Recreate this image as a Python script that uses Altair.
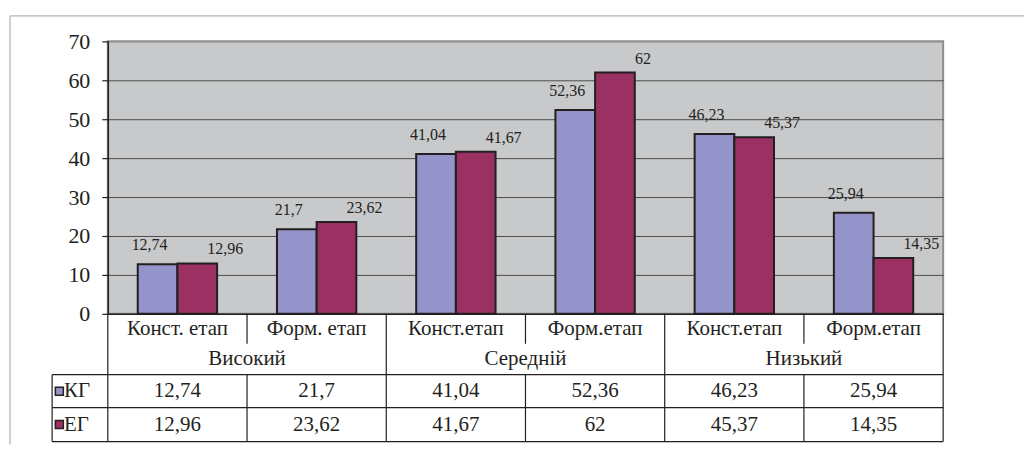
import altair as alt
import pandas as pd

# ---------------- data ----------------
levels = ["Високий", "Середній", "Низький"]
stages = ["Конст. етап", "Форм. етап", "Конст.етап", "Форм.етап", "Конст.етап", "Форм.етап"]
series = ["КГ", "ЕГ"]
kg_values = [12.74, 21.7, 41.04, 52.36, 46.23, 25.94]
eg_values = [12.96, 23.62, 41.67, 62, 45.37, 14.35]
y_ticks = [0, 10, 20, 30, 40, 50, 60, 70]

# ---------------- style ----------------
colors = ["#9494CA", "#9B3163"]
FONT = "'Liberation Serif', 'Times New Roman', Times, 'DejaVu Serif', serif"
INK = "#231F20"
W, H = 837, 273
TH = 128
row_edges = [0, 30, 61, 94, 128]
LEFT = -0.4


def fmt(v):
    return f"{v:g}".replace(".", ",")


def mid(r):
    return (row_edges[r] + row_edges[r + 1]) / 2


bars_df = pd.DataFrame({
    "cat": list(range(len(stages))) * 2,
    "series": [series[0]] * len(kg_values) + [series[1]] * len(eg_values),
    "value": kg_values + eg_values,
})
bars_df["label"] = bars_df["value"].map(fmt)

x_enc = alt.X(
    "cat:O",
    scale=alt.Scale(paddingInner=0.43, paddingOuter=0.215),
    axis=alt.Axis(labels=False, ticks=False, title=None, grid=False,
                  domainColor=INK, domainWidth=1.5),
)
xo = alt.XOffset("series:N", sort=series, scale=alt.Scale(domain=series, paddingInner=0))
y_enc = alt.Y(
    "value:Q",
    scale=alt.Scale(domain=[0, 70], nice=False),
    axis=alt.Axis(
        values=y_ticks, title=None, tickSize=6, tickColor=INK, tickWidth=1.2,
        labelPadding=12, labelFont=FONT, labelFontSize=22, labelColor=INK,
        domainColor=INK, domainWidth=1.5,
        gridColor=alt.condition("datum.value >= 70", alt.value("#8E8E8E"), alt.value("#4D4D4D")),
        gridWidth=1,
    ),
)

bars = alt.Chart(bars_df).mark_bar(stroke=INK, strokeWidth=2).encode(
    x=x_enc, xOffset=xo, y=y_enc,
    color=alt.Color("series:N", scale=alt.Scale(domain=series, range=colors), legend=None),
)

lab_kg = alt.Chart(bars_df).transform_filter(alt.datum.series == series[0]).mark_text(
    font=FONT, fontSize=16, color=INK, dx=-8, dy=-19, baseline="middle"
).encode(x=x_enc, xOffset=xo, y=y_enc, text="label:N")

lab_eg = alt.Chart(bars_df).transform_filter(alt.datum.series == series[1]).mark_text(
    font=FONT, fontSize=16, color=INK, dx=28, dy=-14, baseline="middle"
).encode(x=x_enc, xOffset=xo, y=y_enc, text="label:N")

one = pd.DataFrame({"k": [0]})
frame_top = alt.Chart(one).mark_rule(color="#A0A0A0", strokeWidth=1).encode(
    x=alt.value(-98), x2=alt.value(918), y=alt.value(-25.5)
)
frame_left = alt.Chart(one).mark_rule(color="#A0A0A0", strokeWidth=1).encode(
    x=alt.value(-98), y=alt.value(-25.5), y2=alt.value(404)
)

top = alt.layer(bars, lab_kg, lab_eg, frame_top, frame_left).properties(
    width=W, height=H,
    view=alt.ViewBackground(fill="#C8C9CB", stroke="#8E8E8E", strokeWidth=2),
)

# ---------------- data table ----------------
n = len(stages)
lines = []
for yy in row_edges[2:]:
    lines.append(dict(x=LEFT, x2=n, y=yy, y2=yy))
for xx in range(0, n + 1, 2):
    lines.append(dict(x=xx, x2=xx, y=row_edges[0], y2=row_edges[-1]))
for xx in range(1, n, 2):
    lines.append(dict(x=xx, x2=xx, y=row_edges[0], y2=row_edges[1]))
    lines.append(dict(x=xx, x2=xx, y=row_edges[2], y2=row_edges[4]))
lines.append(dict(x=LEFT, x2=LEFT, y=row_edges[2], y2=row_edges[4]))
lines_df = pd.DataFrame(lines)

cells = []
for i, s in enumerate(stages):
    cells.append(dict(x=i + 0.5, y=mid(0), t=s))
for j, g in enumerate(levels):
    cells.append(dict(x=2 * j + 1, y=mid(1), t=g))
for i, v in enumerate(kg_values):
    cells.append(dict(x=i + 0.5, y=mid(2), t=fmt(v)))
for i, v in enumerate(eg_values):
    cells.append(dict(x=i + 0.5, y=mid(3), t=fmt(v)))
cells_df = pd.DataFrame(cells)

leg_df = pd.DataFrame({
    "series": series,
    "y": [mid(2), mid(3)],
    "xs": [-0.348, -0.348],
    "xt": [-0.315, -0.315],
})

tx = alt.X("x:Q", scale=alt.Scale(domain=[0, n], nice=False, zero=False), axis=None)
ty = alt.Y("y:Q", scale=alt.Scale(domain=[0, TH], nice=False, zero=False, reverse=True), axis=None)

t_lines = alt.Chart(lines_df).mark_rule(color=INK, strokeWidth=1.2).encode(
    x=tx, x2="x2:Q", y=ty, y2="y2:Q"
)
t_text = alt.Chart(cells_df).mark_text(
    font=FONT, fontSize=21, color=INK, baseline="middle", align="center"
).encode(x=tx, y=ty, text="t:N")
t_sq = alt.Chart(leg_df).mark_square(size=64, stroke=INK, strokeWidth=1.5, opacity=1).encode(
    x=alt.X("xs:Q", scale=alt.Scale(domain=[0, n], nice=False, zero=False), axis=None),
    y=ty,
    color=alt.Color("series:N", scale=alt.Scale(domain=series, range=colors), legend=None),
)
t_leg = alt.Chart(leg_df).mark_text(
    font=FONT, fontSize=21, color=INK, baseline="middle", align="left"
).encode(
    x=alt.X("xt:Q", scale=alt.Scale(domain=[0, n], nice=False, zero=False), axis=None),
    y=ty, text="series:N",
)

table = alt.layer(t_lines, t_text, t_sq, t_leg).properties(width=W, height=TH)

chart = alt.vconcat(top, table, spacing=0, bounds="flush").properties(
    padding={"left": 0, "top": 6, "right": 0, "bottom": 0}
).configure_view(stroke="transparent")

chart.save("out.html", embed_options={"renderer": "svg", "actions": False})
